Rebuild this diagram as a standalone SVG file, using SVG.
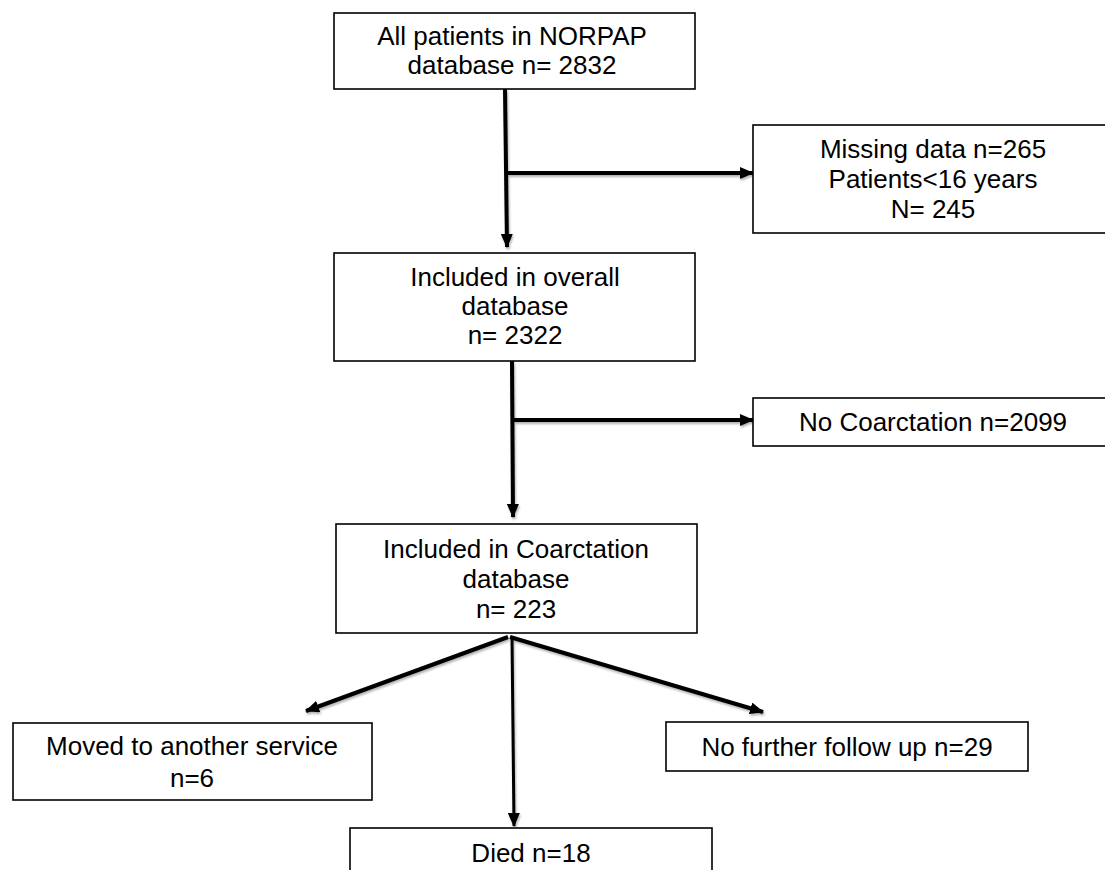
<svg xmlns="http://www.w3.org/2000/svg" width="1105" height="870" viewBox="0 0 1105 870">
<style>
.box{fill:#fff;stroke:#000;stroke-width:1.6}
.t{font-family:"Liberation Sans",Arial,sans-serif;font-size:26px;fill:#000;text-anchor:middle}
.c{fill:none;stroke:#000;stroke-width:4;stroke-linecap:butt}
.c3{fill:none;stroke:#000;stroke-width:3}
</style>
<defs>
<marker id="ah" markerUnits="userSpaceOnUse" markerWidth="14" markerHeight="12" refX="13" refY="6" orient="auto" viewBox="0 0 14 12">
<path d="M0,0 L14,6 L0,12 z" fill="#000"/>
</marker>
<filter id="sh" x="-10%" y="-10%" width="120%" height="120%">
<feDropShadow dx="1" dy="2" stdDeviation="1.2" flood-color="#000" flood-opacity="0.3"/>
</filter>
</defs>
<rect width="1105" height="870" fill="#fff"/>
<g id="connectors" filter="url(#sh)">
<path class="c" d="M505,89 L507,247" marker-end="url(#ah)"/>
<path class="c" d="M505,173 L753,173" marker-end="url(#ah)"/>
<path class="c" d="M512,361 L513,517" marker-end="url(#ah)"/>
<path class="c" d="M512,420 L753,420" marker-end="url(#ah)"/>
<path class="c" d="M508,637 L306,711" marker-end="url(#ah)"/>
<path class="c" d="M510,637 L763,712" marker-end="url(#ah)"/>
<path class="c3" d="M512,637 L514,826" marker-end="url(#ah)"/>
</g>
<g id="n1">
<rect class="box" x="334" y="13" width="361" height="76"/>
<text class="t" x="512" y="45">All patients in NORPAP</text>
<text class="t" x="512" y="74">database n= 2832</text>
</g>
<g id="n2">
<rect class="box" x="753" y="125" width="370" height="108"/>
<text class="t" x="933" y="158">Missing data n=265</text>
<text class="t" x="933" y="188">Patients&lt;16 years</text>
<text class="t" x="933" y="218">N= 245</text>
</g>
<g id="n3">
<rect class="box" x="334" y="253" width="361" height="108"/>
<text class="t" x="515" y="286">Included in overall</text>
<text class="t" x="515" y="315">database</text>
<text class="t" x="515" y="344">n= 2322</text>
</g>
<g id="n4">
<rect class="box" x="753" y="398" width="370" height="48"/>
<text class="t" x="933" y="431">No Coarctation n=2099</text>
</g>
<g id="n5">
<rect class="box" x="336" y="524" width="361" height="109"/>
<text class="t" x="516" y="558">Included in Coarctation</text>
<text class="t" x="516" y="588">database</text>
<text class="t" x="516" y="618">n= 223</text>
</g>
<g id="n6">
<rect class="box" x="13" y="723" width="359" height="77"/>
<text class="t" x="192" y="755">Moved to another service</text>
<text class="t" x="192" y="787">n=6</text>
</g>
<g id="n7">
<rect class="box" x="666" y="722" width="362" height="49"/>
<text class="t" x="847" y="756">No further follow up n=29</text>
</g>
<g id="n8">
<rect class="box" x="350" y="828" width="362" height="60"/>
<text class="t" x="531" y="862">Died n=18</text>
</g>
</svg>
